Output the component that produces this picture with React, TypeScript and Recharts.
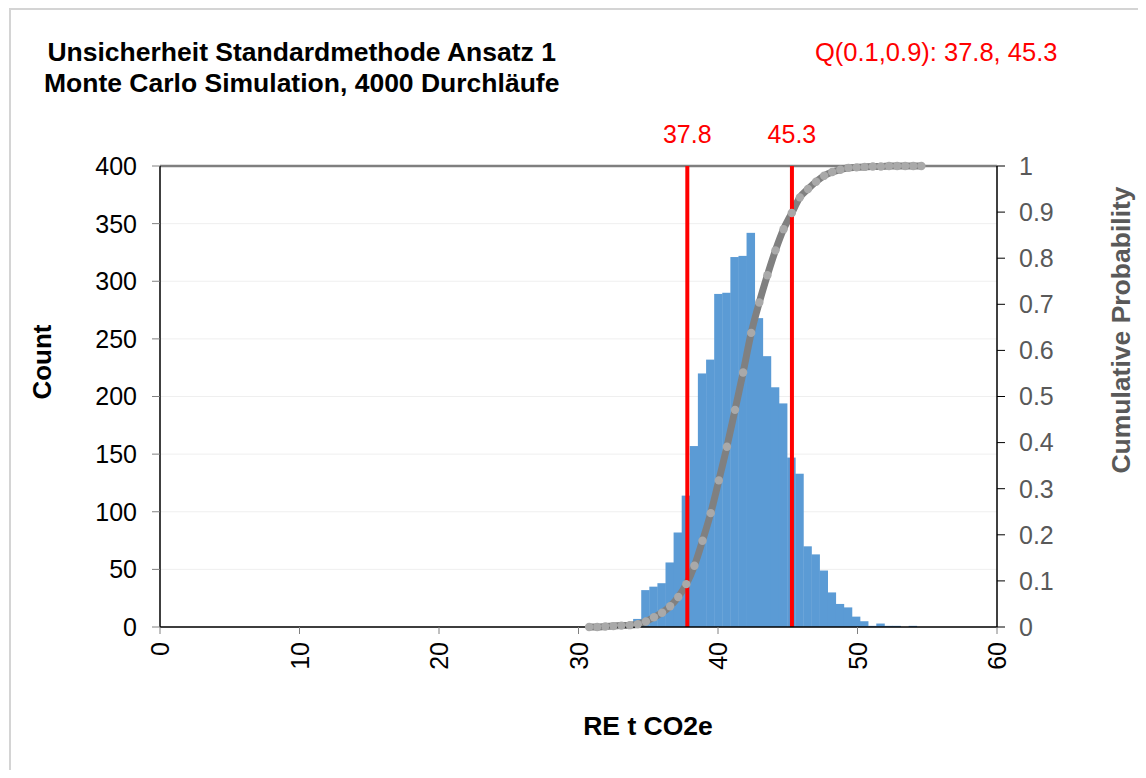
import React from "react";
import {
  ComposedChart,
  Bar,
  Line,
  XAxis,
  YAxis,
  CartesianGrid,
  ReferenceLine,
} from "recharts";

const binCenters = [
  30.76, 31.34, 31.92, 32.5, 33.08, 33.67, 34.25, 34.83, 35.41, 35.99, 36.57,
  37.15, 37.73, 38.31, 38.89, 39.48, 40.06, 40.64, 41.22, 41.8, 42.38, 42.96,
  43.54, 44.12, 44.7, 45.29, 45.87, 46.45, 47.03, 47.61, 48.19, 48.77, 49.35,
  49.93, 50.51, 51.1, 51.68, 52.26, 52.84, 53.42, 54.0, 54.58,
];

const counts = [
  0, 0, 1, 1, 2, 3, 7, 32, 35, 38, 56, 82, 114, 157, 220, 232, 289, 290, 321,
  322, 342, 268, 235, 208, 194, 147, 133, 70, 63, 49, 30, 20, 17, 9, 5, 1, 3, 1,
  1, 0, 1, 0,
];

const cumulative = [
  0, 0, 0.001, 0.002, 0.003, 0.004, 0.006, 0.012, 0.021, 0.031, 0.045, 0.065,
  0.093, 0.133, 0.187, 0.247, 0.318, 0.391, 0.471, 0.552, 0.638, 0.704, 0.763,
  0.817, 0.863, 0.898, 0.932, 0.95, 0.966, 0.979, 0.987, 0.992, 0.996, 0.997,
  0.998, 0.999, 0.999, 1, 1, 1, 1, 1,
];

const xTicks = [0, 10, 20, 30, 40, 50, 60];
const countTicks = [0, 50, 100, 150, 200, 250, 300, 350, 400];
const probTicks = [0, 0.1, 0.2, 0.3, 0.4, 0.5, 0.6, 0.7, 0.8, 0.9, 1];
const quantiles = [37.8, 45.3];

const FONT = '"Liberation Sans", Arial, sans-serif';

const data = binCenters.map((x, i) => ({
  x,
  count: counts[i],
  cum: cumulative[i],
}));

function XTick(props: any) {
  const { x, y, payload } = props;
  return (
    <text
      x={0}
      y={0}
      transform={`translate(${x},${y + 6}) rotate(-90)`}
      textAnchor="end"
      dominantBaseline="central"
      fontSize={25}
      fontFamily={FONT}
      fill="#000"
    >
      {payload.value}
    </text>
  );
}

// histogram columns touch each other, so widen each rect a little
function HistBar(props: any) {
  const { x, y, width, height, fill } = props;
  if (!height || height <= 0) return null;
  return (
    <rect
      x={x - 0.6}
      y={y}
      width={width + 1.2}
      height={height}
      fill={fill}
    />
  );
}

export default function App() {
  return (
    <div
      style={{
        position: "relative",
        width: 1130,
        height: 762,
        overflow: "hidden",
        fontFamily: FONT,
        background: "#fff",
      }}
    >
      <div
        style={{
          position: "absolute",
          left: 1,
          top: 0,
          width: 1300,
          height: 900,
          border: "2px solid #d4d4d4",
        }}
      />
      <div
        style={{
          position: "absolute",
          left: 36,
          top: 29,
          fontSize: 26.5,
          fontWeight: "bold",
          lineHeight: "31px",
          color: "#000",
          textAlign: "center",
          whiteSpace: "nowrap",
        }}
      >
        Unsicherheit Standardmethode Ansatz 1
        <br />
        Monte Carlo Simulation, 4000 Durchläufe
      </div>
      <div
        style={{
          position: "absolute",
          left: 807,
          top: 29,
          fontSize: 25.5,
          lineHeight: "31px",
          color: "#ff0000",
          whiteSpace: "nowrap",
        }}
      >
        Q(0.1,0.9): 37.8, 45.3
      </div>
      <div
        style={{
          position: "absolute",
          left: 34,
          top: 354,
          transform: "translate(-50%,-50%) rotate(-90deg)",
          fontSize: 26,
          fontWeight: "bold",
          color: "#000",
          whiteSpace: "nowrap",
        }}
      >
        Count
      </div>
      <div
        style={{
          position: "absolute",
          left: 1113,
          top: 322,
          transform: "translate(-50%,-50%) rotate(-90deg)",
          fontSize: 26.5,
          fontWeight: "bold",
          color: "#595959",
          whiteSpace: "nowrap",
        }}
      >
        Cumulative Probability
      </div>
      <div
        style={{
          position: "absolute",
          left: 640,
          top: 718,
          transform: "translate(-50%,-50%)",
          fontSize: 26.5,
          fontWeight: "bold",
          color: "#000",
          whiteSpace: "nowrap",
        }}
      >
        RE t CO2e
      </div>
      <div style={{ position: "absolute", left: 0, top: 0 }}>
        <ComposedChart
          width={1130}
          height={762}
          data={data}
          barCategoryGap={0}
          barGap={0}
          margin={{ top: 158, right: 81, bottom: 83, left: 92 }}
        >
          <CartesianGrid
            yAxisId="left"
            vertical={false}
            stroke="#efefef"
            strokeWidth={1}
          />
          <XAxis
            dataKey="x"
            type="number"
            domain={[0, 60]}
            ticks={xTicks}
            height={60}
            axisLine={{ stroke: "#000", strokeWidth: 1.5 }}
            tickLine={{ stroke: "#808080" }}
            tickSize={7}
            tick={<XTick />}
            interval={0}
          />
          <YAxis
            yAxisId="left"
            domain={[0, 400]}
            ticks={countTicks}
            width={60}
            axisLine={{ stroke: "#000", strokeWidth: 1.5 }}
            tickLine={{ stroke: "#808080" }}
            tickSize={8}
            tickMargin={15}
            tick={{ fill: "#000", fontSize: 25, fontFamily: FONT }}
            interval={0}
          />
          <YAxis
            yAxisId="right"
            orientation="right"
            domain={[0, 1]}
            ticks={probTicks}
            width={60}
            axisLine={{ stroke: "#000", strokeWidth: 1.5 }}
            tickLine={{ stroke: "#000" }}
            tickSize={8}
            tickMargin={14}
            tick={{ fill: "#595959", fontSize: 25, fontFamily: FONT }}
            tickFormatter={(v: number) => String(Math.round(v * 10) / 10)}
            interval={0}
          />
          <ReferenceLine
            yAxisId="left"
            y={400}
            stroke="#7f7f7f"
            strokeWidth={2.5}
          />
          <Bar
            yAxisId="left"
            dataKey="count"
            fill="#5b9bd5"
            barSize={8.1}
            shape={<HistBar />}
            isAnimationActive={false}
          />
          <Line
            yAxisId="right"
            dataKey="cum"
            type="monotone"
            stroke="#808080"
            strokeWidth={7}
            dot={{ r: 4.2, fill: "#a9a9a9", stroke: "none" }}
            isAnimationActive={false}
          />
          {quantiles.map((q) => (
            <ReferenceLine
              key={q}
              yAxisId="left"
              x={q}
              stroke="#ff0000"
              strokeWidth={4}
              label={{
                value: q.toFixed(1),
                position: "top",
                offset: 23,
                fill: "#ff0000",
                fontSize: 25,
                fontFamily: FONT,
              }}
            />
          ))}
        </ComposedChart>
      </div>
    </div>
  );
}
